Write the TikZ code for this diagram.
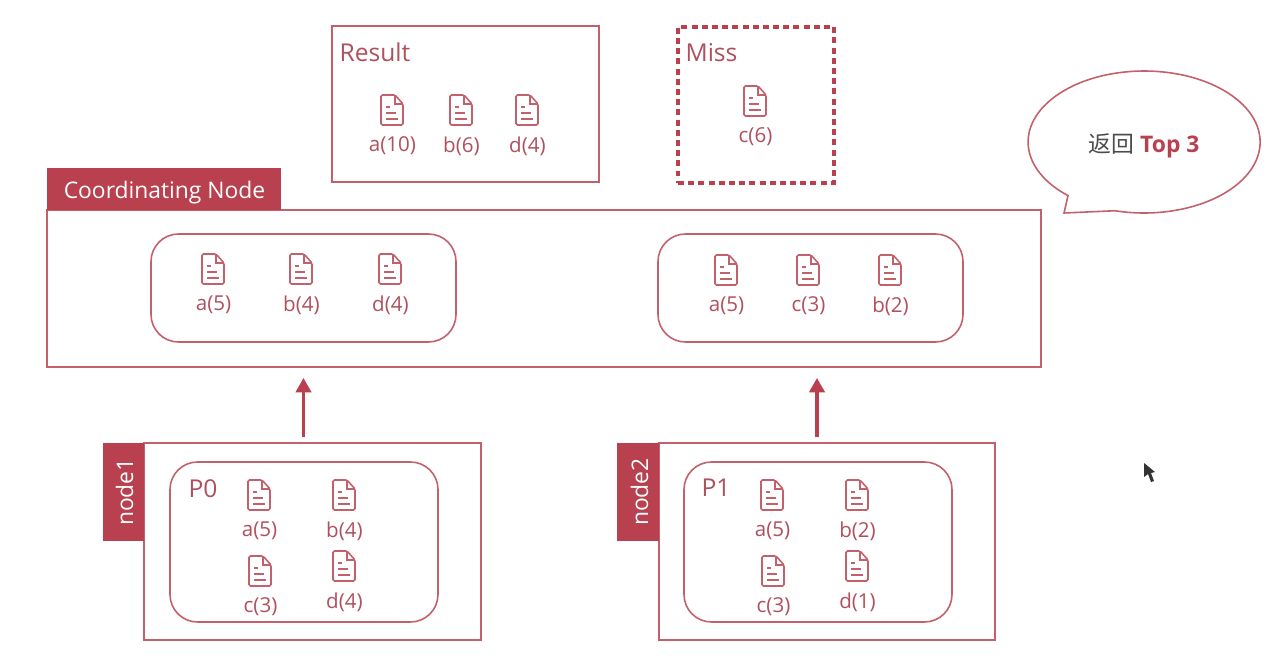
\documentclass[tikz,border=0pt]{standalone}
\usepackage{fontspec}
\setmainfont{Open Sans}
\newfontfamily\cjkfont{Noto Sans CJK SC}
\usetikzlibrary{arrows.meta}
\definecolor{esred}{HTML}{B8404F}
\definecolor{esline}{HTML}{C2606C}
\definecolor{estext}{HTML}{B0505E}
\begin{document}
\begin{tikzpicture}[x=0.02cm,y=-0.02cm]
\tikzstyle{box}=[draw=esline,line width=1.1pt,inner sep=0pt]
\tikzstyle{inner}=[box,line width=0.9pt,rounded corners=0.55cm]
\tikzstyle{tab}=[fill=esred,inner sep=0pt]
\tikzstyle{tabtext}=[text=white,inner sep=0pt,font=\fontsize{13}{15}\selectfont]
\tikzstyle{title}=[text=estext,inner sep=0pt,font=\fontsize{14}{17}\selectfont]
\tikzstyle{lab}=[text=estext,inner sep=0pt,font=\fontsize{11.7}{14}\selectfont]
\tikzstyle{uparrow}=[draw=esred,line width=1.8pt,-{Triangle[length=0.29cm,width=0.31cm]}]
\tikzset{doc/.pic={
	\draw[esline,line width=0.9pt,rounded corners=0.03cm] (-11,-15) -- (3,-15) -- (11,-6) -- (11,15) -- (-11,15) -- cycle;
	\draw[esline,line width=0.7pt] (3,-15) -- (3,-6) -- (11,-6);
	\draw[esline,line width=0.7pt] (-6,-3) -- (-2,-3) (-6,3) -- (4,3) (-6,9) -- (6,9);
}}
\useasboundingbox (0,0) rectangle (1281,658);
\fill[white] (0,0) rectangle (1281,658);
% boxes
\foreach \name/\x/\y/\w/\h in {
	result/465.5/104/267/156,
	coord/544/288.5/994/157,
	nodeA/312.5/541.5/337/197,
	nodeB/827/541.5/336/197}
	\node[box,minimum width=\w*0.02cm,minimum height=\h*0.02cm] (\name) at (\x,\y) {};
\foreach \name/\x/\y/\w/\h in {
	left/303.5/288/305/108,
	right/810.5/288/305/108,
	partA/304/542/268/160,
	partB/818/542/268/160}
	\node[inner,minimum width=\w*0.02cm,minimum height=\h*0.02cm] (\name) at (\x,\y) {};
\node[box,draw=esred,line width=2pt,dash pattern=on 3.4pt off 2.4pt,minimum width=3.12cm,minimum height=3.12cm] (miss) at (756,105) {};
% tabs
\node[tab,minimum width=234*0.02cm,minimum height=42*0.02cm] (coordtab) at (164,189) {};
\node[tab,minimum width=41*0.02cm,minimum height=98*0.02cm] (tabA) at (123.5,492) {};
\node[tab,minimum width=42*0.02cm,minimum height=98*0.02cm] (tabB) at (638,492) {};
\node[tabtext] (coordlabel) at (164.5,193) {Coordinating Node};
\node[tabtext,rotate=90] (labelA) at (124.5,492) {node1};
\node[tabtext,rotate=90] (labelB) at (639.5,492) {node2};
% titles
\node[title] (resulttitle) at (375,52) {Result};
\node[title] (misstitle) at (711.5,53) {Miss};
\node[title] (ptitleA) at (203,489) {P0};
\node[title] (ptitleB) at (716,488) {P1};
% documents
\foreach \name/\x/\y/\lab in {
	ra/392/110/a(10),
	rb/461/110/b(6),
	rd/527/110/d(4),
	mc/755/101/c(6),
	la/213/269/a(5),
	lb/301/269/b(4),
	ld/390/269/d(4),
	ca/726/270/a(5),
	cc/808/270/c(3),
	cb/890/270/b(2),
	pa/259/495/a(5),
	pb/344/495/b(4),
	pc/260/571/c(3),
	pd/344/566/d(4),
	qa/772/495/a(5),
	qb/857/495/b(2),
	qc/773/571/c(3),
	qd/857/566/d(1)}
{
	\pic at (\x,\y) {doc};
	\node[lab] (\name) at (\x+0.5,\y+36) {\lab};
}
% arrows
\coordinate (startA) at (303.5,437);
\coordinate (endA) at (303.5,378);
\coordinate (startB) at (817,437);
\coordinate (endB) at (817,378);
\draw[uparrow] (startA) -- (endA);
\draw[uparrow] (startB) -- (endB);
% callout
\coordinate (bubbleleft) at (1068,195.6);
\coordinate (bubbletail) at (1064,213);
\draw[esline,line width=0.9pt] (bubbleleft) arc[start angle=131,end angle=464.5,x radius=116,y radius=71] -- (bubbletail) -- cycle;
\node[inner sep=0pt,text=black!70,font=\fontsize{13}{15}\selectfont] (bubbletext) at (1144,145.5) {{\cjkfont 返回} \textcolor{esred}{\textbf{Top 3}}};
% pointer
\fill[black!80] (1144,463) -- (1144,477) -- (1148,474) -- (1151,482) -- (1154,481) -- (1151,473) -- (1155,472) -- cycle;
\end{tikzpicture}
\end{document}
